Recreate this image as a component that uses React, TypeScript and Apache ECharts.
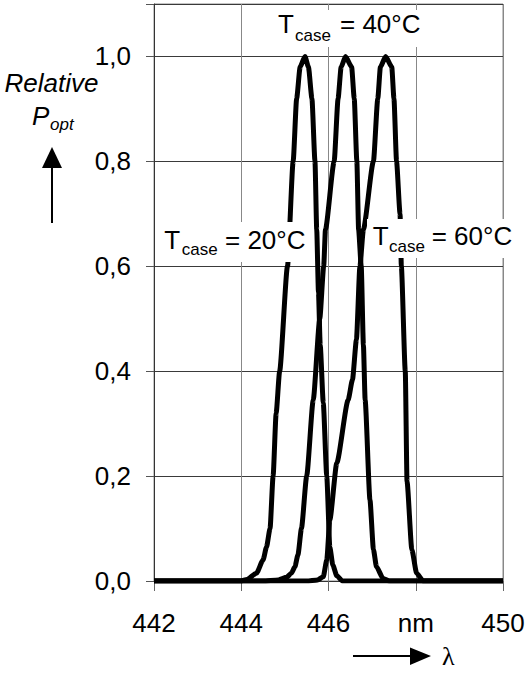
import React, { useEffect, useRef } from "react";
import * as echarts from "echarts";

// ---- data ----
const xTicks = [442, 444, 446, 448, 450];
const xTickLabels = ["442", "444", "446", "nm", "450"];
const yTicks = [0, 0.2, 0.4, 0.6, 0.8, 1.0];

const lambda20 = [442, 443.5, 444.0, 444.13, 444.35, 444.5, 444.58, 444.66, 444.73, 444.8, 444.88, 445.06, 445.19, 445.27, 445.35, 445.46, 445.54, 445.62, 445.69, 445.73, 445.77, 445.81, 445.88, 445.96, 446.03, 446.1, 446.19, 446.32, 447, 450];
const power20 = [0, 0, 0, 0.003, 0.015, 0.04, 0.065, 0.1, 0.2, 0.32, 0.4, 0.6, 0.8, 0.92, 0.98, 1.0, 0.98, 0.92, 0.8, 0.67, 0.55, 0.45, 0.34, 0.2, 0.065, 0.03, 0.01, 0, 0, 0];

const lambda40 = [442, 444.5, 444.85, 445.04, 445.15, 445.23, 445.3, 445.38, 445.5, 445.65, 445.8, 445.89, 445.93, 446.13, 446.22, 446.29, 446.39, 446.53, 446.59, 446.65, 446.69, 446.75, 446.8, 446.84, 446.95, 447.03, 447.1, 447.25, 447.4, 450];
const power40 = [0, 0, 0.002, 0.007, 0.015, 0.027, 0.05, 0.1, 0.2, 0.345, 0.5, 0.6, 0.67, 0.8, 0.92, 0.98, 1.0, 0.98, 0.92, 0.8, 0.67, 0.6, 0.45, 0.345, 0.155, 0.06, 0.027, 0.005, 0, 0];

const lambda60 = [442, 445.5, 445.75, 445.88, 445.96, 446.03, 446.19, 446.45, 446.55, 446.64, 446.72, 446.8, 447.03, 447.13, 447.19, 447.31, 447.45, 447.5, 447.56, 447.64, 447.67, 447.76, 447.8, 447.91, 448.02, 448.17, 450];
const power60 = [0, 0, 0.002, 0.008, 0.04, 0.116, 0.225, 0.345, 0.384, 0.46, 0.6, 0.67, 0.8, 0.92, 0.98, 1.0, 0.98, 0.92, 0.8, 0.7, 0.6, 0.4, 0.19, 0.06, 0.015, 0, 0];

const seriesNames = ["20°C", "40°C", "60°C"];

const FONT = "'Liberation Sans', Arial, Helvetica, sans-serif";

function zip(xs: number[], ys: number[]) {
  return xs.map((x, i) => [x, ys[i]]);
}

function tempLabel(
  temp: string,
  box: { x: number; y: number; w: number; h: number },
  tx: number,
  baseY: number,
  caseX: number,
  caseBase: number,
  eqX: number
) {
  return {
    type: "group",
    z: 100,
    children: [
      { type: "rect", shape: { x: box.x, y: box.y, width: box.w, height: box.h }, style: { fill: "#ffffff" }, z: 100 },
      { type: "text", x: tx, y: baseY - 9, z: 101, style: { text: "T", font: `26px ${FONT}`, fill: "#000", textAlign: "left", textVerticalAlign: "middle" } },
      { type: "text", x: caseX, y: caseBase - 5.9, z: 101, style: { text: "case", font: `17px ${FONT}`, fill: "#000", textAlign: "left", textVerticalAlign: "middle" } },
      { type: "text", x: eqX, y: baseY - 9, z: 101, style: { text: `= ${temp}`, font: `26px ${FONT}`, fill: "#000", textAlign: "left", textVerticalAlign: "middle" } },
    ],
  };
}

export default function App() {
  const ref = useRef<HTMLDivElement>(null);
  useEffect(() => {
    if (!ref.current) return;
    const chart = echarts.init(ref.current, null, { renderer: "svg" });
    const seriesData = [zip(lambda20, power20), zip(lambda40, power40), zip(lambda60, power60)];
    chart.setOption({
      animation: false,
      backgroundColor: "#ffffff",
      grid: {
        left: 154,
        right: 27,
        top: 4,
        bottom: 92,
        show: true,
        borderColor: "#8a8a8a",
        borderWidth: 1,
        backgroundColor: "transparent",
        containLabel: false,
        outerBoundsMode: "none",
      },
      xAxis: {
        type: "value",
        min: 442,
        max: 450,
        interval: 2,
        axisLine: { show: true, lineStyle: { color: "#333", width: 1 } },
        axisTick: { show: true, inside: false, length: 10, lineStyle: { color: "#666" } },
        axisLabel: {
          margin: 29,
          color: "#000",
          fontSize: 26,
          fontFamily: FONT,
          formatter: (v: number) => {
            const i = xTicks.indexOf(Math.round(v));
            return i >= 0 ? xTickLabels[i] : "";
          },
        },
        splitLine: { show: true, lineStyle: { color: "#888", width: 1 } },
      },
      yAxis: {
        type: "value",
        min: 0,
        max: 1.1,
        interval: 0.2,
        axisLine: { show: true, lineStyle: { color: "#333", width: 1 } },
        axisTick: { show: true, inside: false, length: 8, lineStyle: { color: "#555" } },
        axisLabel: {
          margin: 23,
          color: "#000",
          fontSize: 26,
          fontFamily: FONT,
          formatter: (v: number) => {
            const ok = yTicks.some((t) => Math.abs(t - v) < 1e-6);
            return ok ? v.toFixed(1).replace(".", ",") : "";
          },
        },
        splitLine: { show: true, lineStyle: { color: "#3a3a3a", width: 1 } },
      },
      series: seriesData.map((d, i) => ({
        name: seriesNames[i],
        type: "line",
        data: d,
        showSymbol: false,
        symbol: "none",
        smooth: 0.2,
        smoothMonotone: "x",
        lineStyle: { color: "#000", width: 5 },
        z: 5,
      })),
      graphic: [
        // y-axis title
        { type: "text", x: 51.5, y: 83, style: { text: "Relative", font: `italic 26px ${FONT}`, fill: "#000", textAlign: "center", textVerticalAlign: "middle" } },
        { type: "text", x: 32, y: 116, style: { text: "P", font: `italic 26px ${FONT}`, fill: "#000", textAlign: "left", textVerticalAlign: "middle" } },
        { type: "text", x: 50, y: 124, style: { text: "opt", font: `italic 17px ${FONT}`, fill: "#000", textAlign: "left", textVerticalAlign: "middle" } },
        { type: "line", shape: { x1: 52, y1: 165, x2: 52, y2: 223 }, style: { stroke: "#000", lineWidth: 2 } },
        { type: "polygon", shape: { points: [[42, 168], [62, 168], [52, 147]] }, style: { fill: "#000" } },
        // x-axis lambda arrow
        { type: "line", shape: { x1: 353, y1: 656, x2: 413, y2: 656 }, style: { stroke: "#000", lineWidth: 2 } },
        { type: "polygon", shape: { points: [[410, 647.5], [410, 665], [431, 656]] }, style: { fill: "#000" } },
        { type: "text", x: 442, y: 656, style: { text: "λ", font: `26px 'Liberation Serif', 'DejaVu Serif', serif`, fill: "#000", textAlign: "left", textVerticalAlign: "middle" } },
        // temperature labels
        tempLabel("40°C", { x: 273, y: 10, w: 152, h: 37 }, 278, 33, 295, 41.7, 340),
        tempLabel("20°C", { x: 160, y: 222, w: 150, h: 40 }, 164.3, 249.3, 181.7, 255, 225),
        tempLabel("60°C", { x: 367, y: 219, w: 151, h: 39 }, 372.7, 245, 389, 252.7, 431.7),
      ],
    });
    return () => chart.dispose();
  }, []);
  return <div ref={ref} style={{ position: "absolute", left: 0, top: 0, width: 530, height: 673 }} />;
}
